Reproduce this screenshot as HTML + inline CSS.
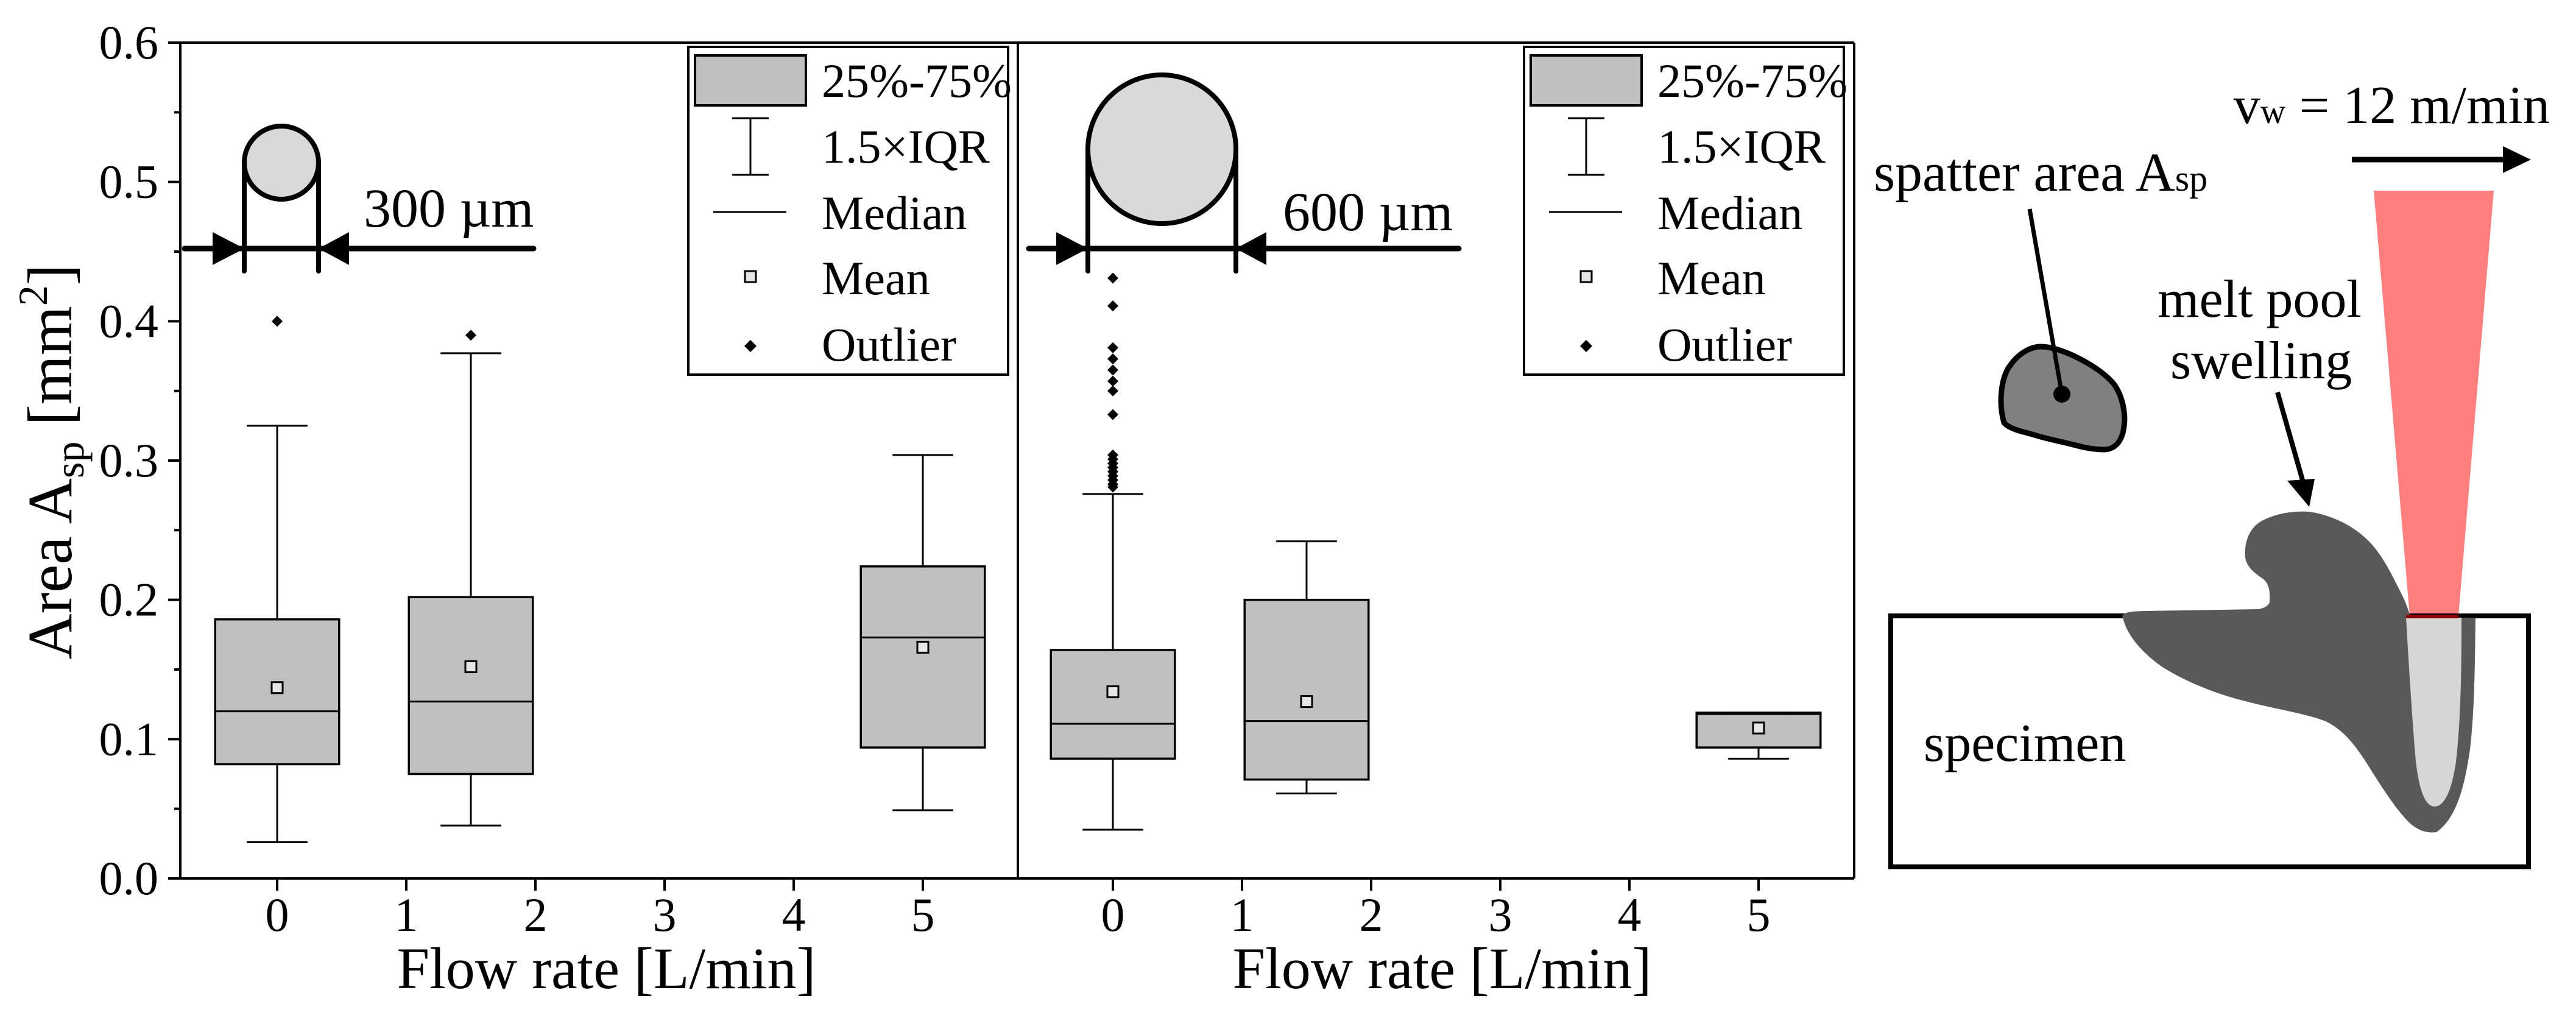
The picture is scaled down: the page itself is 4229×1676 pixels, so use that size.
<!DOCTYPE html>
<html><head><meta charset="utf-8"><style>
html,body{margin:0;padding:0;background:#fff}
svg{display:block}
text{font-family:"Liberation Serif",serif;fill:#000}
</style></head><body>
<svg id="fig" xmlns="http://www.w3.org/2000/svg" width="4229" height="1676" viewBox="0 0 4229 1676">
<g id="chart"></g>
<g id="schematic">
  <text x="4186" y="202" font-size="88" text-anchor="end">v<tspan font-size="58">w</tspan> = 12 m/min</text>
  <line x1="3861" y1="262" x2="4115" y2="262" stroke="#000" stroke-width="9"/>
  <polygon points="4155,262 4109,240 4109,284" fill="#000"/>
  <polygon points="3897,313 4094,313 4036,1011 3956,1011" fill="#ff7f7f"/>
  <text x="3076" y="313" font-size="90">spatter area A<tspan font-size="60">sp</tspan></text>
  <path d="M3290,694 C3280,660 3286,617 3300,600 C3315,578 3336,569 3350,569 C3365,569 3381,574 3400,582 C3430,596 3455,612 3470,630 C3485,650 3490,680 3487,700 C3484,725 3472,737 3455,738 C3435,738 3419,734 3400,729 C3380,724 3358,720 3340,714 C3320,708 3300,705 3290,694 Z" fill="#808080" stroke="#000" stroke-width="9"/>
  <line x1="3332" y1="343" x2="3385" y2="647" stroke="#000" stroke-width="7"/>
  <circle cx="3385" cy="647" r="14" fill="#000"/>
  <text x="3542" y="520" font-size="88">melt pool</text>
  <text x="3563" y="621" font-size="88">swelling</text>
  <line x1="3739" y1="644" x2="3782" y2="795" stroke="#000" stroke-width="8"/>
  <polygon points="3791,832 3755,789 3800,786" fill="#000"/>
  <rect x="3104" y="1011" width="1047" height="412" fill="none" stroke="#000" stroke-width="8"/>
  <path d="M3484,1011 C3490,1003 3503,1004 3520,1003 L3707,1000 C3720,998 3726,992 3726,987 C3727,970 3725,958 3715,950 C3700,940 3688,930 3686,915 C3684,895 3690,870 3710,857 C3730,845 3760,838 3790,840 C3830,845 3870,866 3895,895 C3915,918 3930,950 3945,980 C3952,995 3955,1005 3957,1013 L4064,1014 C4063,1100 4062,1170 4055,1230 C4045,1300 4030,1345 4000,1366 C3985,1368 3970,1364 3955,1350 C3935,1330 3915,1300 3890,1260 C3870,1228 3850,1200 3820,1185 C3790,1172 3740,1165 3690,1152 C3640,1140 3590,1120 3550,1095 C3515,1070 3495,1045 3487,1021 Z" fill="#595959"/>
  <path d="M3950,1014 L4041,1014 C4041,1100 4040,1180 4032,1250 C4025,1300 4012,1324 3997,1324 C3982,1324 3972,1300 3966,1250 C3960,1180 3955,1100 3950,1014 Z" fill="#d6d6d6"/>
  <line x1="3950" y1="1012" x2="4036" y2="1012" stroke="#8b0000" stroke-width="6"/>
  <text x="3158" y="1249" font-size="88">specimen</text>
</g>
</svg>
<script>
// ---- data ----
const yTicks = [0.0, 0.1, 0.2, 0.3, 0.4, 0.5, 0.6];
const yTickLabels = ["0.0","0.1","0.2","0.3","0.4","0.5","0.6"];
const xTicks = [0, 1, 2, 3, 4, 5];
const xTickLabels = ["0","1","2","3","4","5"];
const legendLabels = ["25%-75%", "1.5×IQR", "Median", "Mean", "Outlier"];
// panel 1 (300 µm nozzle)
const p1Positions = [0, 1.5, 5];
const p1WhiskerLow = [0.026, 0.038, 0.049];
const p1Q1 = [0.082, 0.075, 0.094];
const p1Median = [0.120, 0.127, 0.173];
const p1Q3 = [0.186, 0.202, 0.224];
const p1WhiskerHigh = [0.325, 0.377, 0.304];
const p1Mean = [0.137, 0.152, 0.166];
const p1OutlierX = [0, 1.5];
const p1OutlierY = [0.400, 0.390];
// panel 2 (600 µm nozzle)
const p2Positions = [0, 1.5, 5];
const p2WhiskerLow = [0.035, 0.061, 0.086];
const p2Q1 = [0.086, 0.071, 0.094];
const p2Median = [0.111, 0.113, 0.118];
const p2Q3 = [0.164, 0.200, 0.119];
const p2WhiskerHigh = [0.276, 0.242, 0.119];
const p2Mean = [0.134, 0.127, 0.108];
const p2OutlierX = [0,0,0,0,0,0,0,0,0,0,0,0,0,0,0,0,0];
const p2OutlierY = [0.431,0.411,0.381,0.373,0.365,0.357,0.350,0.333,0.304,0.301,0.298,0.295,0.292,0.289,0.286,0.283,0.281];

const NS = "http://www.w3.org/2000/svg";
const root = document.getElementById("chart");
function mk(tag, attrs, parent) {
  const e = document.createElementNS(NS, tag);
  for (const k in attrs) e.setAttribute(k, attrs[k]);
  (parent || root).appendChild(e);
  return e;
}
const Y0 = 1442, Y1 = 70;
function yS(v) { return Y0 - (v - 0) / 0.6 * (Y0 - Y1); }

let e;
e = mk("line", {x1:296, y1:Y1, x2:3044, y2:Y1, stroke:"#000", "stroke-width":4});


e = mk("line", {x1:296, y1:Y0, x2:3044, y2:Y0, stroke:"#000", "stroke-width":4});


e = mk("line", {x1:296, y1:Y1, x2:296, y2:Y0, stroke:"#000", "stroke-width":4});


e = mk("line", {x1:1671, y1:Y1, x2:1671, y2:Y0, stroke:"#000", "stroke-width":4});


e = mk("line", {x1:3044, y1:Y1, x2:3044, y2:Y0, stroke:"#000", "stroke-width":4});



for (let i = 0; i < yTicks.length; i++) {
  const y = yS(yTicks[i]);
  e = mk("line", {x1:276, y1:y, x2:296, y2:y, stroke:"#000", "stroke-width":4});
  
  
  e = mk("text", {x:260, y:y + 26, "font-size":78, "text-anchor":"end"});
  e.textContent = yTickLabels[i];
  
  
  if (i < yTicks.length - 1) {
    const ym = yS((yTicks[i] + yTicks[i+1]) / 2);
    e = mk("line", {x1:286, y1:ym, x2:296, y2:ym, stroke:"#000", "stroke-width":4});
    
    
  }
}
e = mk("text", {transform:"translate(117,758) rotate(-90)", "font-size":104, "text-anchor":"middle"});
e.innerHTML = 'Area A<tspan font-size="68" dy="20">sp</tspan><tspan dy="-20"> [mm</tspan><tspan font-size="68" dy="-40">2</tspan><tspan dy="40">]</tspan>';



function panel(x0, pos, wl, q1, med, q3, wh, mean, ox, oy, key, circ) {
  const U = 212;
  const xS = v => x0 + v * U;
  for (let i = 0; i < xTicks.length; i++) {
    const x = xS(xTicks[i]);
    e = mk("line", {x1:x, y1:Y0, x2:x, y2:Y0 + 20, stroke:"#000", "stroke-width":4});
    
    
    e = mk("text", {x:x, y:1528, "font-size":78, "text-anchor":"middle"});
    e.textContent = xTickLabels[i];
    
    
  }
  e = mk("text", {x:xS(2.55), y:1622, "font-size":96, "text-anchor":"middle"});
  e.textContent = "Flow rate [L/min]";
  
  

  for (let i = 0; i < pos.length; i++) {
    const cx = xS(pos[i]), hw = 0.48 * U, cw = 0.235 * U;
    e = mk("line", {x1:cx, y1:yS(wl[i]), x2:cx, y2:yS(q1[i]), stroke:"#000", "stroke-width":3});
    
    
    e = mk("line", {x1:cx, y1:yS(q3[i]), x2:cx, y2:yS(wh[i]), stroke:"#000", "stroke-width":3});
    
    
    e = mk("line", {x1:cx - cw, y1:yS(wl[i]), x2:cx + cw, y2:yS(wl[i]), stroke:"#000", "stroke-width":3});
    
    
    e = mk("line", {x1:cx - cw, y1:yS(wh[i]), x2:cx + cw, y2:yS(wh[i]), stroke:"#000", "stroke-width":3});
    
    
    e = mk("rect", {x:cx - hw, y:yS(q3[i]), width:2 * hw, height:yS(q1[i]) - yS(q3[i]), fill:"#c0c0c0", stroke:"#000", "stroke-width":3.5});
    
    
    e = mk("line", {x1:cx - hw, y1:yS(med[i]), x2:cx + hw, y2:yS(med[i]), stroke:"#000", "stroke-width":3});
    
    
    e = mk("rect", {x:cx - 9, y:yS(mean[i]) - 9, width:18, height:18, fill:"#e6e6e6", stroke:"#000", "stroke-width":3});
    
    
  }
  for (let i = 0; i < oy.length; i++) {
    const cx = xS(ox[i]), cy = yS(oy[i]);
    e = mk("polygon", {points:`${cx},${cy-9} ${cx+9},${cy} ${cx},${cy+9} ${cx-9},${cy}`, fill:"#000"});
    
    
  }
  const lx = x0 + 675;
  const g = mk("g", {});
  
  
  mk("rect", {x:lx, y:77, width:525, height:538, fill:"#fff", stroke:"#000", "stroke-width":4}, g);
  mk("rect", {x:lx + 11, y:91, width:182, height:82, fill:"#c0c0c0", stroke:"#000", "stroke-width":4}, g);
  const sx = lx + 102;
  mk("line", {x1:sx, y1:194, x2:sx, y2:287, stroke:"#000", "stroke-width":3}, g);
  mk("line", {x1:sx - 30, y1:194, x2:sx + 30, y2:194, stroke:"#000", "stroke-width":3}, g);
  mk("line", {x1:sx - 30, y1:287, x2:sx + 30, y2:287, stroke:"#000", "stroke-width":3}, g);
  mk("line", {x1:lx + 41, y1:348, x2:lx + 161, y2:348, stroke:"#000", "stroke-width":3}, g);
  mk("rect", {x:sx - 9, y:445, width:18, height:18, fill:"#e6e6e6", stroke:"#000", "stroke-width":3}, g);
  mk("polygon", {points:`${sx},558 ${sx+10},568 ${sx},578 ${sx-10},568`, fill:"#000"}, g);
  const bl = [159, 267, 376, 483, 592];
  for (let i = 0; i < legendLabels.length; i++) {
    const t = mk("text", {x:lx + 219, y:bl[i], "font-size":78}, g);
    t.textContent = legendLabels[i];
    
    
  }
  const a = mk("g", {});
  
  
  const c = circ;
  mk("line", {x1:c.l, y1:c.cy, x2:c.l, y2:445, stroke:"#000", "stroke-width":8, "stroke-linecap":"round"}, a);
  mk("line", {x1:c.r, y1:c.cy, x2:c.r, y2:445, stroke:"#000", "stroke-width":8, "stroke-linecap":"round"}, a);
  mk("ellipse", {cx:(c.l + c.r) / 2, cy:c.cy, rx:(c.r - c.l) / 2, ry:c.ry, fill:"#d9d9d9", stroke:"#000", "stroke-width":8}, a);
  mk("line", {x1:c.x1, y1:408, x2:c.x2, y2:408, stroke:"#000", "stroke-width":9, "stroke-linecap":"round"}, a);
  mk("polygon", {points:`${c.l},408 ${c.l-52},381 ${c.l-52},435`, fill:"#000"}, a);
  mk("polygon", {points:`${c.r},408 ${c.r+50},381 ${c.r+50},435`, fill:"#000"}, a);
  const t = mk("text", {x:c.tx, y:c.ty, "font-size":90}, a);
  t.textContent = c.label;
  
  
}
panel(455, p1Positions, p1WhiskerLow, p1Q1, p1Median, p1Q3, p1WhiskerHigh, p1Mean, p1OutlierX, p1OutlierY, "panel-300um",
  {l:401, r:523, cy:267, ry:60, x1:303, x2:876, tx:597, ty:372, label:"300 µm"});
panel(1827, p2Positions, p2WhiskerLow, p2Q1, p2Median, p2Q3, p2WhiskerHigh, p2Mean, p2OutlierX, p2OutlierY, "panel-600um",
  {l:1786, r:2029, cy:245, ry:122, x1:1689, x2:2395, tx:2106, ty:378, label:"600 µm"});
</script>
</body></html>
